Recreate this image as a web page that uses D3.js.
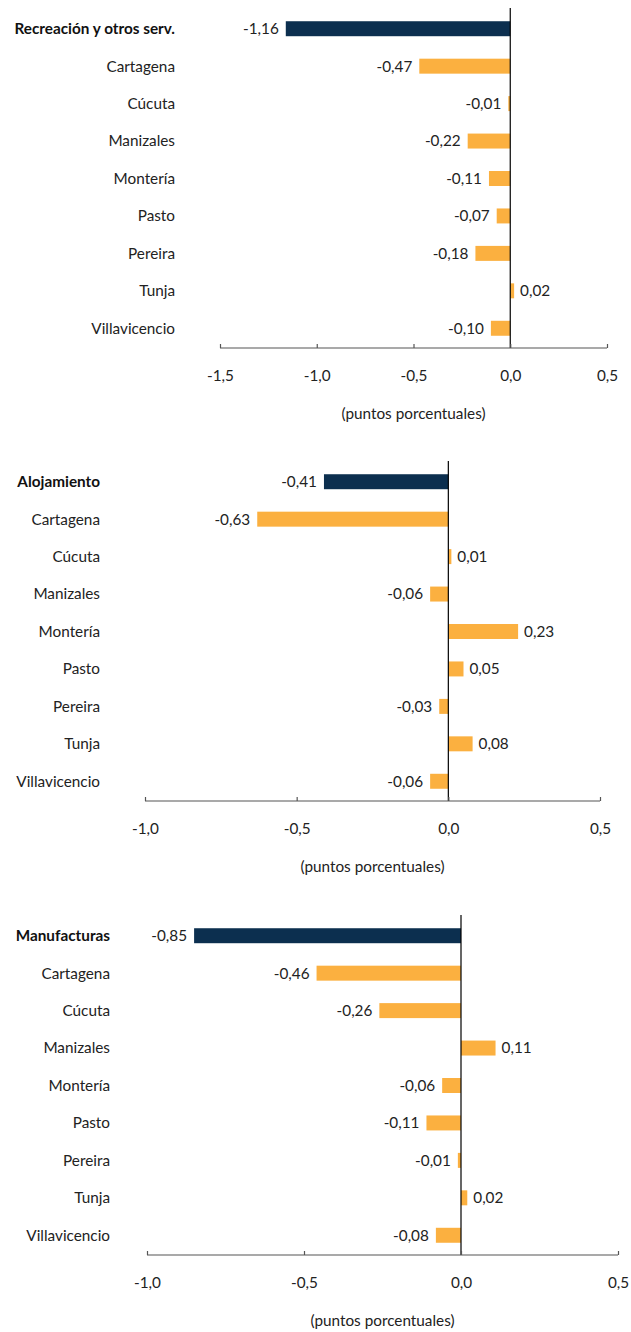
<!DOCTYPE html>
<html><head><meta charset="utf-8">
<script src="https://cdn.jsdelivr.net/npm/d3@7"></script>
<style>body{margin:0;background:#fff}svg{display:block}</style>
</head><body>
<script>
const cities = ["Cartagena","Cúcuta","Manizales","Montería","Pasto","Pereira","Tunja","Villavicencio"];
const titles = ["Recreación y otros serv.","Alojamiento","Manufacturas"];
const recreacion = [-1.16,-0.47,-0.01,-0.22,-0.11,-0.07,-0.18,0.02,-0.10];
const alojamiento = [-0.41,-0.63,0.01,-0.06,0.23,0.05,-0.03,0.08,-0.06];
const manufacturas = [-0.85,-0.46,-0.26,0.11,-0.06,-0.11,-0.01,0.02,-0.08];
const ticks1 = [-1.5,-1.0,-0.5,0.0,0.5];
const ticks2 = [-1.0,-0.5,0.0,0.5];
const axisTitle = "(puntos porcentuales)";

const W=631,H=1332;
const svg=d3.select("body").append("svg").attr("width",W).attr("height",H);
const font="Lato, 'Open Sans', sans-serif";
const fs=15.3;
const fmt=v=>d3.format(".2f")(v).replace(".",",").replace("−","-");
const fmtT=v=>d3.format(".1f")(v).replace(".",",").replace("−","-");

const panels=[
 {title:titles[0],vals:recreacion,ticks:ticks1,x0:220,x1:607,axisY:348,labelX:175},
 {title:titles[1],vals:alojamiento,ticks:ticks2,x0:145,x1:600,axisY:801,labelX:100},
 {title:titles[2],vals:manufacturas,ticks:ticks2,x0:147,x1:618,axisY:1255,labelX:110}
];
panels.forEach(p=>{
  const g=svg.append("g");
  const cats=[p.title,...cities];
  const x=d3.scaleLinear().domain([p.ticks[0],p.ticks[p.ticks.length-1]]).range([p.x0,p.x1]);
  const y=d3.scaleBand().domain(cats).range([p.axisY-338,p.axisY-1]).paddingInner(0.6).paddingOuter(0.3);
  const data=cats.map((c,i)=>({c,v:p.vals[i],i}));
  g.selectAll("rect").data(data).join("rect")
    .attr("x",d=>Math.min(x(0),x(d.v))).attr("width",d=>Math.abs(x(d.v)-x(0)))
    .attr("y",d=>y(d.c)).attr("height",y.bandwidth())
    .attr("fill",d=>d.i===0?"#0c2f4f":"#fbb040");
  g.append("line").attr("x1",x(0)).attr("x2",x(0)).attr("y1",p.axisY-340).attr("y2",p.axisY)
    .attr("stroke","#000").attr("stroke-width",1.2);
  const ax=g.append("g").attr("transform",`translate(0,${p.axisY})`)
    .call(d3.axisBottom(x).tickValues(p.ticks).tickSize(-4).tickPadding(0).tickFormat(fmtT));
  ax.select(".domain").attr("stroke","#555").attr("stroke-width",1.2).attr("d",`M${p.x0},0H${p.x1}`);
  ax.selectAll(".tick line").attr("stroke","#555").attr("stroke-width",1.2);
  ax.selectAll(".tick text").attr("y",28).attr("dy","0.35em").attr("font-size",fs).attr("font-family",font).attr("fill","#222");
  g.selectAll("text.cat").data(data).join("text").attr("class","cat")
    .attr("x",p.labelX).attr("y",d=>y(d.c)+y.bandwidth()/2).attr("dy","0.35em")
    .attr("text-anchor","end").attr("font-family",font).attr("font-size",fs)
    .attr("font-weight",d=>d.i===0?"bold":"normal").attr("fill",d=>d.i===0?"#111":"#222").text(d=>d.c);
  g.selectAll("text.val").data(data).join("text").attr("class","val")
    .attr("x",d=>d.v<0?x(d.v)-7:x(d.v)+6).attr("y",d=>y(d.c)+y.bandwidth()/2).attr("dy","0.35em")
    .attr("text-anchor",d=>d.v<0?"end":"start").attr("font-family",font).attr("font-size",fs)
    .attr("fill","#222").text(d=>fmt(d.v));
  g.append("text").attr("x",(p.x0+p.x1)/2).attr("y",p.axisY+66).attr("dy","0.35em")
    .attr("text-anchor","middle").attr("font-family",font).attr("font-size",fs).attr("fill","#222").text(axisTitle);
});
</script>
</body></html>
